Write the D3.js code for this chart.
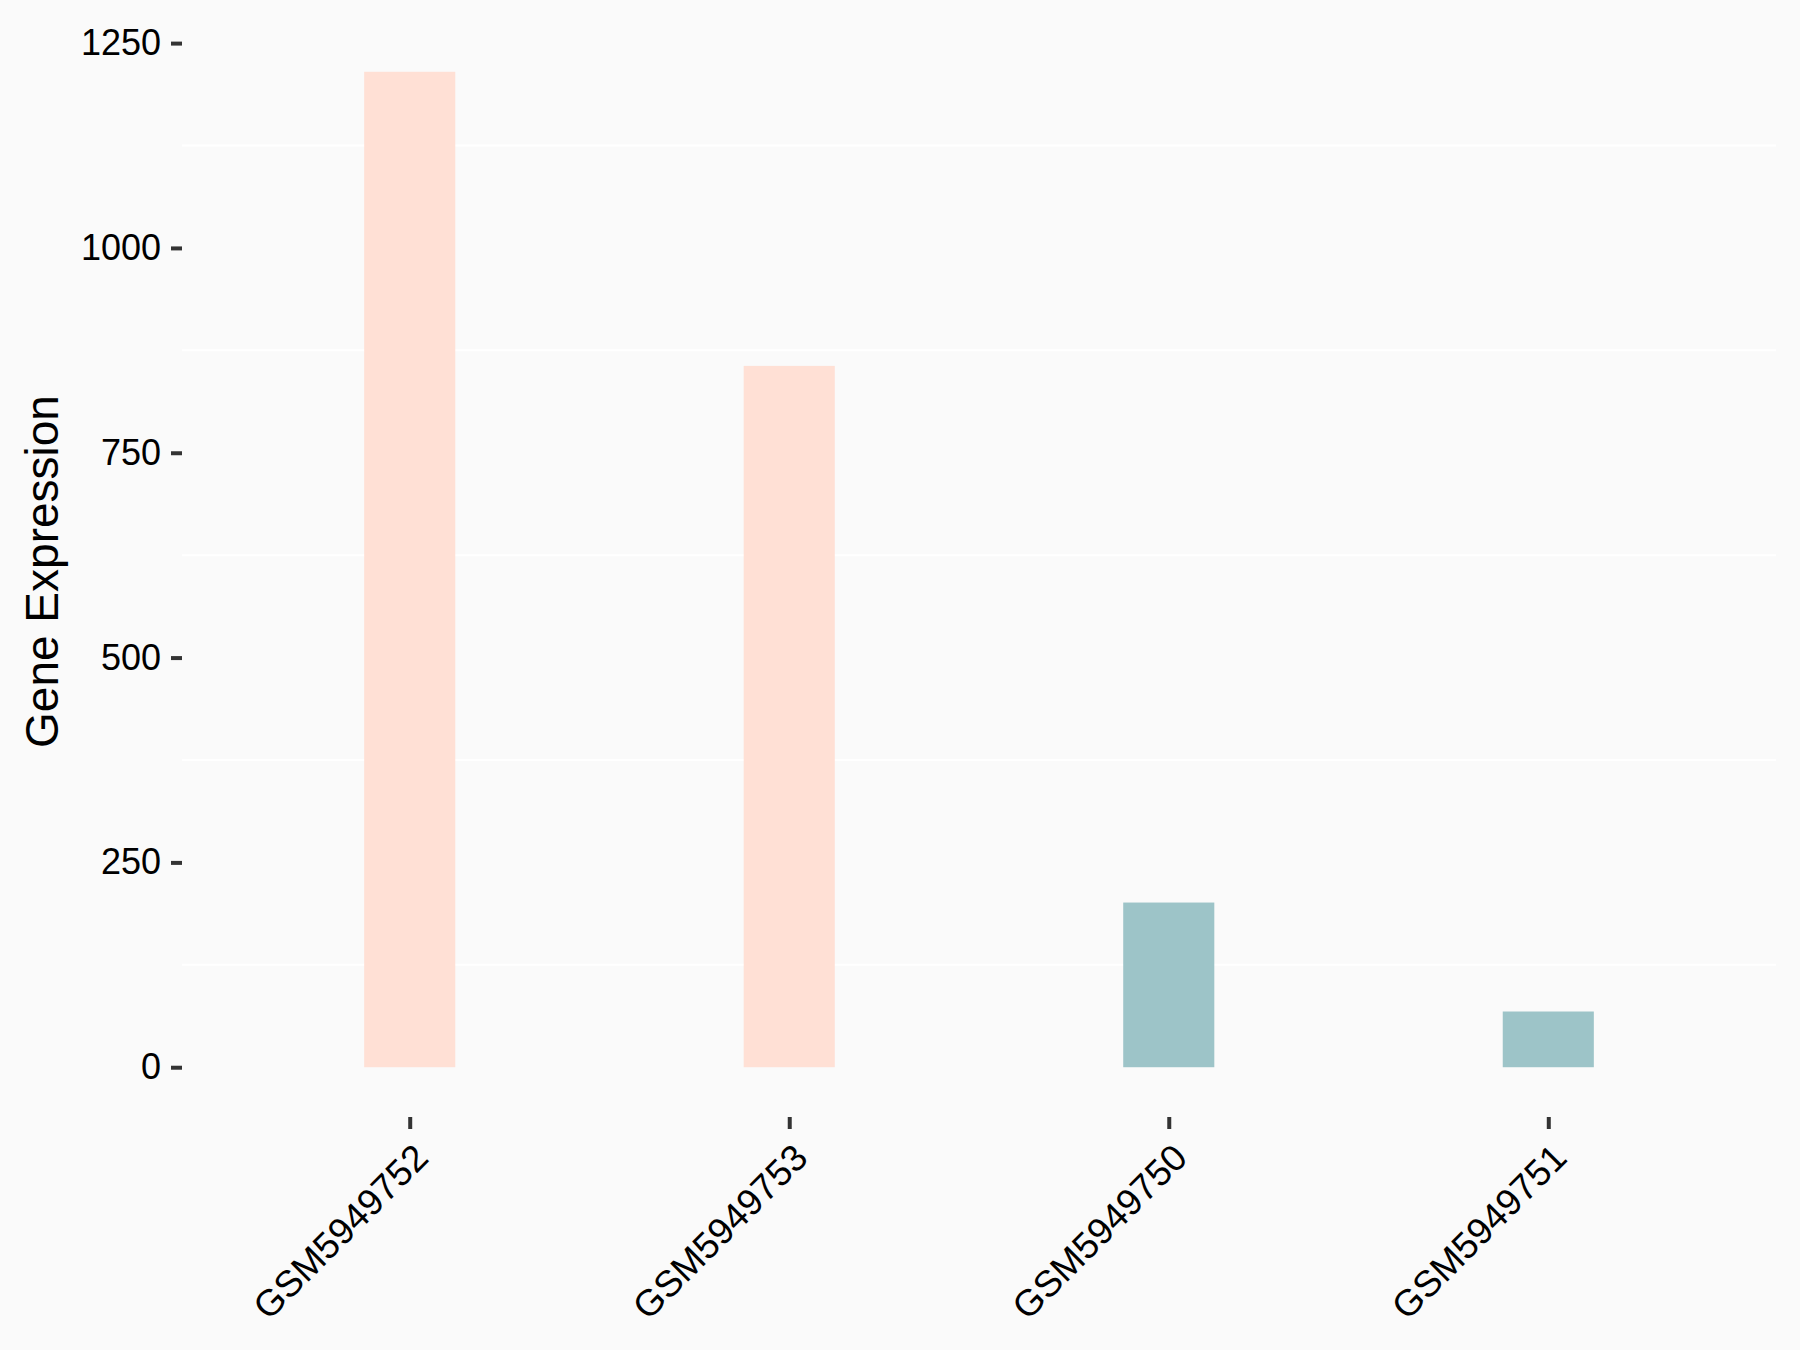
<!DOCTYPE html>
<html>
<head>
<meta charset="utf-8">
<script src="https://cdn.jsdelivr.net/npm/d3@7"></script>
<style>
  body { margin: 0; background: #fafafa; }
  text { font-family: "Liberation Sans", Arial, sans-serif; }
</style>
</head>
<body>
<div class="chart"></div>
<script>
var svgWidth = 1800;
var svgHeight = 1350;

// panel box
var margin = { top: 22, right: 24, bottom: 233, left: 182 };
var width = svgWidth - margin.left - margin.right;
var height = svgHeight - margin.top - margin.bottom;

// data
var samples = ["GSM5949752", "GSM5949753", "GSM5949750", "GSM5949751"];
var expression = [1215, 856, 201, 68];
var groups = ["high", "high", "low", "low"];
var yTicks = [0, 250, 500, 750, 1000, 1250];
var gridTicks = [125, 375, 625, 875, 1125];

var groupColor = { high: "#ffe0d5", low: "#9dc4c8" };

var svg = d3.select(".chart")
  .append("svg")
  .attr("width", svgWidth)
  .attr("height", svgHeight);

svg.append("rect")
  .attr("width", svgWidth)
  .attr("height", svgHeight)
  .attr("fill", "#fafafa");

var chartGroup = svg.append("g")
  .attr("transform", `translate(${margin.left}, ${margin.top})`);

// ggplot style expansion on both scales
var xScale = d3.scalePoint()
  .domain(samples)
  .range([0, width])
  .padding(0.6);

var yMax = d3.max(expression);
var yScale = d3.scaleLinear()
  .domain([-0.05 * yMax, yMax * 1.05])
  .range([height, 0]);

var barWidth = xScale.step() * 0.24;

// white minor gridlines
chartGroup.selectAll(".grid")
  .data(gridTicks)
  .enter()
  .append("line")
  .attr("x1", 0)
  .attr("x2", width)
  .attr("y1", d => yScale(d))
  .attr("y2", d => yScale(d))
  .attr("stroke", "#ffffff")
  .attr("stroke-width", 2);

// bars
chartGroup.selectAll(".bar")
  .data(samples)
  .enter()
  .append("rect")
  .attr("x", d => xScale(d) - barWidth / 2)
  .attr("width", barWidth)
  .attr("y", (d, i) => yScale(expression[i]))
  .attr("height", (d, i) => yScale(0) - yScale(expression[i]))
  .attr("fill", (d, i) => groupColor[groups[i]]);

// y axis
var leftAxis = d3.axisLeft(yScale)
  .tickValues(yTicks)
  .tickFormat(d3.format("d"))
  .tickSize(11)
  .tickPadding(10);

var yAxis = chartGroup.append("g").call(leftAxis);
yAxis.select(".domain").remove();
yAxis.selectAll("line").attr("stroke", "#333333").attr("stroke-width", 4);
yAxis.selectAll("text")
  .attr("fill", "#000000")
  .attr("font-size", 36)
  .attr("font-family", "Liberation Sans, Arial, sans-serif");

// x axis
var bottomAxis = d3.axisBottom(xScale)
  .tickSize(12)
  .tickPadding(0);

var xAxis = chartGroup.append("g")
  .attr("transform", `translate(0, ${height})`)
  .call(bottomAxis);
xAxis.select(".domain").remove();
xAxis.selectAll("line").attr("stroke", "#333333").attr("stroke-width", 4);
xAxis.selectAll("text")
  .attr("fill", "#000000")
  .attr("font-size", 37)
  .attr("font-family", "Liberation Sans, Arial, sans-serif")
  .attr("text-anchor", "end")
  .attr("dy", null)
  .attr("y", 0)
  .attr("transform", "translate(20, 43) rotate(-45)");

// y axis title
svg.append("text")
  .attr("transform", `translate(58, ${margin.top + height / 2 + 2}) rotate(-90)`)
  .attr("text-anchor", "middle")
  .attr("font-size", 46)
  .attr("fill", "#000000")
  .text("Gene Expression");
</script>
</body>
</html>
